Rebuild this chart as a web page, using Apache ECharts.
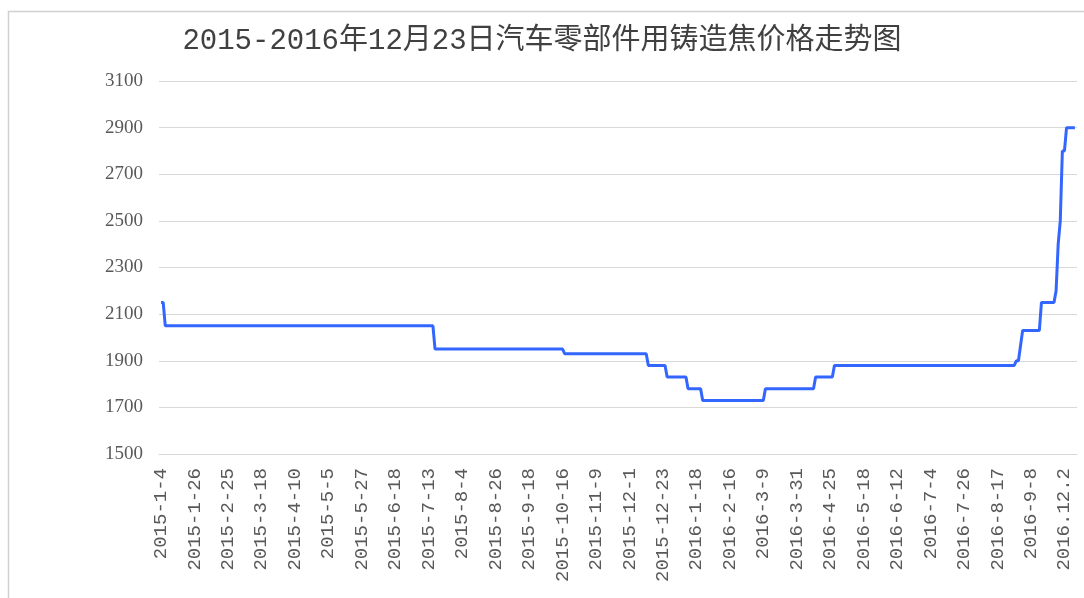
<!DOCTYPE html>
<html style="height: 100%">
<head>
    <meta charset="UTF-8">
    <script src="https://cdn.jsdelivr.net/npm/echarts@6/dist/echarts.min.js"></script>
</head>
<body style="margin: 0; background-color: #ffffff">
    <div id="paint" style="width: 1084px; height: 598px;"></div>
<script>
    // 横轴标签，每16个交易日一个
    var dateLabels = ['2015-1-4', '2015-1-26', '2015-2-25', '2015-3-18', '2015-4-10', '2015-5-5',
        '2015-5-27', '2015-6-18', '2015-7-13', '2015-8-4', '2015-8-26', '2015-9-18', '2015-10-16',
        '2015-11-9', '2015-12-1', '2015-12-23', '2016-1-18', '2016-2-16', '2016-3-9', '2016-3-31',
        '2016-4-25', '2016-5-18', '2016-6-12', '2016-7-4', '2016-7-26', '2016-8-17', '2016-9-8', '2016.12.2'];
    var labelStep = 16;
    // 价格变动点：序号 / 价格
    var pointIndex = [0, 1, 2, 130, 131, 192, 193, 232, 233, 241, 242, 251, 252, 258, 259, 288, 289,
        312, 313, 321, 322, 408, 409, 410, 412, 420, 421, 427, 428, 429, 430, 431, 432, 433, 437];
    var pointPrice = [2150, 2150, 2050, 2050, 1950, 1950, 1930, 1930, 1880, 1880, 1830, 1830, 1780, 1780, 1730, 1730, 1780,
        1780, 1830, 1830, 1880, 1880, 1900, 1900, 2030, 2030, 2150, 2150, 2200, 2400, 2500, 2800, 2800, 2900, 2900];
    var yMin = 1500, yMax = 3100, yStep = 200;

    var lineData = pointIndex.map(function (v, i) { return [v, pointPrice[i]]; });
    var tickValues = dateLabels.map(function (d, i) { return i * labelStep; });

    echarts.init(document.getElementById('paint')).setOption({
        backgroundColor: '#ffffff',
        animation: false,
        title: {
            text: '2015-2016年12月23日汽车零部件用铸造焦价格走势图',
            left: 'center',
            top: 22,
            textStyle: {fontSize: 29, fontWeight: 'normal', color: '#404040',
                fontFamily: '"Liberation Mono", "Noto Sans CJK SC"'}
        },
        graphic: [{
            type: 'rect',
            shape: {x: 8.5, y: 11.5, width: 1100, height: 620},
            style: {fill: 'none', stroke: '#d0d0d0', lineWidth: 1.5},
            silent: true
        }],
        grid: {left: 159, right: 7, top: 81, bottom: 144},
        xAxis: {
            type: 'value',
            min: -1,
            max: 438,
            axisLine: {show: true, lineStyle: {color: '#d9d9d9'}},
            axisTick: {show: false},
            splitLine: {show: false},
            axisLabel: {
                rotate: 90,
                margin: 14,
                customValues: tickValues,
                fontSize: 19,
                color: '#595959',
                fontFamily: '"Liberation Mono", monospace',
                formatter: function (v) { return dateLabels[Math.round(v / labelStep)] || ''; }
            }
        },
        yAxis: {
            type: 'value',
            min: yMin,
            max: yMax,
            interval: yStep,
            axisLine: {show: false},
            axisTick: {show: false},
            splitLine: {lineStyle: {color: '#d9d9d9'}},
            axisLabel: {fontSize: 19, color: '#595959', margin: 16,
                fontFamily: '"Liberation Serif", serif',
                formatter: function (v) { return String(v); }}
        },
        series: [{
            type: 'line',
            data: lineData,
            showSymbol: false,
            lineStyle: {color: '#3366ff', width: 3},
            itemStyle: {color: '#3366ff'}
        }]
    });
</script>
</body>
</html>
